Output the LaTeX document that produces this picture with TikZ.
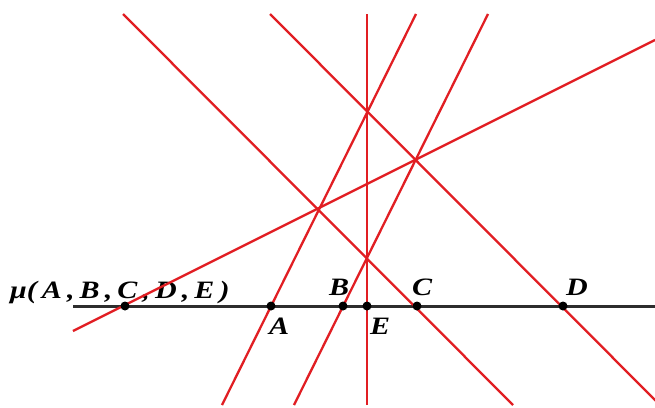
\documentclass[tikz,border=0pt]{standalone}
\usepackage{fontspec}
\setmainfont{Liberation Serif}
\definecolor{linered}{RGB}{225,30,35}
\definecolor{axisgray}{RGB}{45,45,45}
\newcommand{\gp}{\hspace{0.17em}}
\newcommand{\stretchtxt}[1]{\scalebox{1.2}[1]{#1}}
\tikzset{
  redline/.style={draw=linered, line width=2.3pt},
  axisline/.style={draw=axisgray, line width=3pt},
  ptdot/.style={circle, fill=black, inner sep=0pt, minimum size=9pt},
  lbl/.style={inner sep=0pt, font=\fontsize{25}{30}\selectfont\bfseries\itshape},
}
\begin{document}
\begin{tikzpicture}[x=1pt,y=-1pt]
\useasboundingbox (0,0) rectangle (655,407);
% axis
\coordinate (L0) at (73,306);
\coordinate (L1) at (655,306);
\draw[axisline] (L0) -- (L1);
% line ends
\coordinate (muS) at (73,331);
\coordinate (muE) at (655,40);
\coordinate (aS) at (222,405);
\coordinate (aE) at (416,14);
\coordinate (bS) at (294,405);
\coordinate (bE) at (488,14);
\coordinate (eS) at (367,405);
\coordinate (eE) at (367,14);
\coordinate (cS) at (123,14);
\coordinate (cE) at (513,405);
\coordinate (dS) at (270,14);
\coordinate (dE) at (660,405);
% label
\node[lbl, anchor=base west] (mulab) at (10,298) {\stretchtxt{μ(\gp A\gp,\gp B\gp,\gp C\gp,\gp D\gp,\gp E\gp)}};
% red lines
\draw[redline] (muS) -- (muE);
\draw[redline] (aS) -- (aE);
\draw[redline] (bS) -- (bE);
\draw[redline] (eS) -- (eE);
\draw[redline] (cS) -- (cE);
\draw[redline] (dS) -- (dE);
% points
\node[ptdot] (M) at (125,306) {};
\node[ptdot] (A) at (271,306) {};
\node[ptdot] (B) at (343,306) {};
\node[ptdot] (E) at (367,306) {};
\node[ptdot] (C) at (417,306) {};
\node[ptdot] (D) at (563,306) {};
% labels
\node[lbl] (Alab) at (279,326) {\stretchtxt{A}};
\node[lbl] (Blab) at (339,287) {\stretchtxt{B}};
\node[lbl] (Clab) at (422,287) {\stretchtxt{C}};
\node[lbl] (Dlab) at (577,287) {\stretchtxt{D}};
\node[lbl] (Elab) at (380,326) {\stretchtxt{E}};
\end{tikzpicture}
\end{document}
